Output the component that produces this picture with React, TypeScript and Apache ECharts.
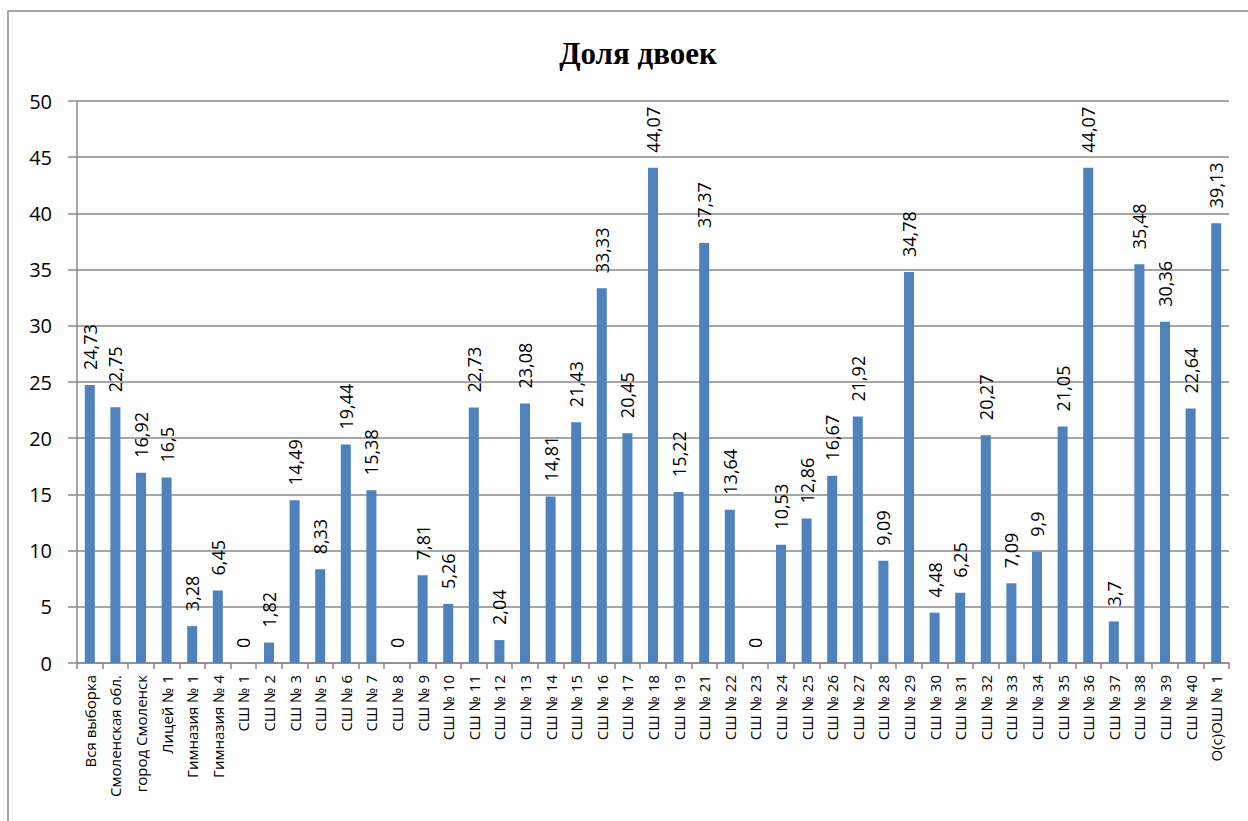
import React, { useEffect, useRef } from "react";
import * as echarts from "echarts";

const categories = [
  "Вся выборка", "Смоленская обл.", "город Смоленск", "Лицей № 1", "Гимназия № 1", "Гимназия № 4",
  "СШ № 1", "СШ № 2", "СШ № 3", "СШ № 5", "СШ № 6", "СШ № 7", "СШ № 8", "СШ № 9", "СШ № 10",
  "СШ № 11", "СШ № 12", "СШ № 13", "СШ № 14", "СШ № 15", "СШ № 16", "СШ № 17", "СШ № 18",
  "СШ № 19", "СШ № 21", "СШ № 22", "СШ № 23", "СШ № 24", "СШ № 25", "СШ № 26", "СШ № 27",
  "СШ № 28", "СШ № 29", "СШ № 30", "СШ № 31", "СШ № 32", "СШ № 33", "СШ № 34", "СШ № 35",
  "СШ № 36", "СШ № 37", "СШ № 38", "СШ № 39", "СШ № 40", "О(с)ОШ № 1",
];

const values = [
  24.73, 22.75, 16.92, 16.5, 3.28, 6.45,
  0, 1.82, 14.49, 8.33, 19.44, 15.38, 0, 7.81, 5.26,
  22.73, 2.04, 23.08, 14.81, 21.43, 33.33, 20.45, 44.07,
  15.22, 37.37, 13.64, 0, 10.53, 12.86, 16.67, 21.92,
  9.09, 34.78, 4.48, 6.25, 20.27, 7.09, 9.9, 21.05,
  44.07, 3.7, 35.48, 30.36, 22.64, 39.13,
];

const title = "Доля двоек";
const yMin = 0;
const yMax = 50;
const yStep = 5;

const FONT = "'Open Sans', 'Noto Sans', sans-serif";

export default function App() {
  const ref = useRef<HTMLDivElement>(null);
  useEffect(() => {
    if (!ref.current) return;
    const chart = echarts.init(ref.current, undefined, { renderer: "svg" });
    chart.setOption({
      animation: false,
      backgroundColor: "#ffffff",
      title: {
        text: title,
        left: 633,
        top: 33,
        textAlign: "center",
        textStyle: {
          fontFamily: "'Liberation Serif', 'Times New Roman', serif",
          fontWeight: "bold",
          fontSize: 31,
          color: "#000",
        },
      },
      graphic: [
        {
          type: "rect",
          shape: { x: 8, y: 11, width: 1400, height: 1000 },
          style: { fill: "none", stroke: "#8a8a8a", lineWidth: 1.5 },
          silent: true,
          z: -1,
        },
      ],
      grid: { left: 77, right: 19, top: 101, bottom: 158 },
      xAxis: {
        type: "category",
        data: categories,
        axisLine: { lineStyle: { color: "#8a8a8a", width: 1.5 } },
        axisTick: { show: true, length: 6, lineStyle: { color: "#8a8a8a", width: 1.5 } },
        axisLabel: {
          rotate: 90,
          interval: 0,
          margin: 12,
          color: "#000",
          fontFamily: FONT,
          fontSize: 15,
        },
      },
      yAxis: {
        type: "value",
        min: yMin,
        max: yMax,
        interval: yStep,
        axisLine: { show: true, lineStyle: { color: "#8a8a8a", width: 1.5 } },
        axisTick: { show: true, length: 9, lineStyle: { color: "#8a8a8a", width: 1.5 } },
        splitLine: { show: true, lineStyle: { color: "#8a8a8a", width: 1.5 } },
        axisLabel: {
          margin: 25,
          color: "#000",
          fontFamily: FONT,
          fontSize: 20,
        },
      },
      series: [
        {
          type: "bar",
          data: values,
          barWidth: 10,
          itemStyle: { color: "#4f81bd" },
          label: {
            show: true,
            position: "top",
            rotate: 90,
            align: "left",
            verticalAlign: "middle",
            distance: 15,
            color: "#000",
            fontFamily: FONT,
            fontSize: 18,
            formatter: (p: any) => String(p.value).replace(".", ","),
          },
        },
      ],
    });
    return () => chart.dispose();
  }, []);
  return (
    <div
      ref={ref}
      style={{ position: "fixed", left: 0, top: 0, width: 1248, height: 821 }}
    />
  );
}
